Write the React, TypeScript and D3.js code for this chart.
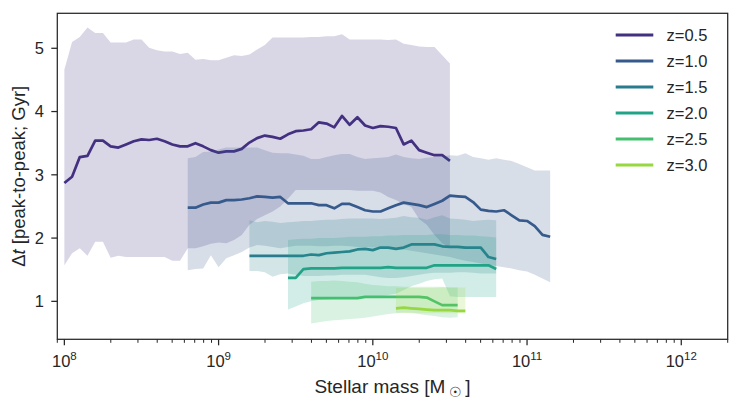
import * as React from "react";
import * as d3 from "d3";

// log10 stellar mass bins and Δt values
const massZ05 = [8.0, 8.05, 8.1, 8.15, 8.2, 8.25, 8.3, 8.35, 8.4, 8.45, 8.5, 8.55, 8.6, 8.65, 8.7, 8.75, 8.8, 8.85, 8.9, 8.95, 9.0, 9.05, 9.1, 9.15, 9.2, 9.25, 9.3, 9.35, 9.4, 9.45, 9.5, 9.55, 9.6, 9.65, 9.7, 9.75, 9.8, 9.85, 9.9, 9.95, 10.0, 10.05, 10.1, 10.15, 10.2, 10.25, 10.3, 10.35, 10.4, 10.45, 10.5];
const midZ05 = [2.87, 2.97, 3.28, 3.3, 3.54, 3.54, 3.45, 3.43, 3.48, 3.53, 3.56, 3.55, 3.57, 3.53, 3.48, 3.45, 3.45, 3.5, 3.45, 3.39, 3.35, 3.37, 3.37, 3.41, 3.51, 3.58, 3.62, 3.6, 3.57, 3.64, 3.69, 3.7, 3.72, 3.83, 3.81, 3.75, 3.93, 3.79, 3.91, 3.78, 3.74, 3.77, 3.76, 3.74, 3.48, 3.54, 3.39, 3.35, 3.31, 3.31, 3.22];
const hiZ05 = [4.66, 5.1, 5.18, 5.33, 5.24, 5.24, 5.09, 5.09, 5.09, 5.14, 5.14, 5.01, 4.97, 4.95, 4.95, 4.91, 4.93, 4.82, 4.83, 4.81, 4.81, 4.85, 4.89, 4.88, 4.9, 4.98, 5.05, 5.17, 5.17, 5.17, 5.17, 5.17, 5.18, 5.18, 5.19, 5.19, 5.22, 5.14, 5.14, 5.14, 5.14, 5.14, 5.13, 5.14, 5.07, 5.05, 5.03, 5.02, 5.02, 4.89, 4.76];
const loZ05 = [1.57, 1.76, 1.84, 1.72, 1.94, 1.94, 1.69, 1.72, 1.7, 1.7, 1.7, 1.7, 1.7, 1.7, 1.64, 1.64, 1.84, 1.84, 1.87, 1.91, 1.93, 1.92, 1.97, 2.05, 2.21, 2.3, 2.36, 2.42, 2.5, 2.62, 2.76, 2.76, 2.76, 2.76, 2.76, 2.76, 2.76, 2.76, 2.75, 2.75, 2.75, 2.72, 2.65, 2.6, 2.54, 2.49, 2.3, 2.21, 2.05, 1.92, 1.85];

const massZ10 = [8.8, 8.85, 8.9, 8.95, 9.0, 9.05, 9.1, 9.15, 9.2, 9.25, 9.3, 9.35, 9.4, 9.45, 9.5, 9.55, 9.6, 9.65, 9.7, 9.75, 9.8, 9.85, 9.9, 9.95, 10.0, 10.05, 10.1, 10.15, 10.2, 10.25, 10.3, 10.35, 10.4, 10.45, 10.5, 10.55, 10.6, 10.65, 10.7, 10.75, 10.8, 10.85, 10.9, 10.95, 11.0, 11.05, 11.1, 11.15];
const midZ10 = [2.48, 2.48, 2.53, 2.56, 2.56, 2.6, 2.6, 2.61, 2.63, 2.66, 2.65, 2.64, 2.65, 2.55, 2.55, 2.55, 2.55, 2.52, 2.52, 2.47, 2.54, 2.54, 2.49, 2.44, 2.42, 2.42, 2.47, 2.52, 2.56, 2.54, 2.52, 2.49, 2.54, 2.59, 2.67, 2.66, 2.65, 2.57, 2.45, 2.43, 2.42, 2.44, 2.36, 2.28, 2.27, 2.19, 2.05, 2.02];
const hiZ10 = [3.26, 3.28, 3.36, 3.37, 3.4, 3.43, 3.43, 3.43, 3.43, 3.43, 3.39, 3.35, 3.34, 3.34, 3.32, 3.3, 3.25, 3.25, 3.28, 3.31, 3.33, 3.33, 3.28, 3.25, 3.26, 3.27, 3.28, 3.32, 3.28, 3.26, 3.25, 3.27, 3.28, 3.29, 3.31, 3.3, 3.34, 3.28, 3.26, 3.24, 3.26, 3.24, 3.22, 3.17, 3.12, 3.07, 3.07, 3.07];
const loZ10 = [1.49, 1.51, 1.52, 1.73, 1.54, 1.68, 1.73, 1.78, 1.85, 1.89, 1.88, 1.86, 1.84, 1.86, 1.88, 1.88, 1.88, 1.87, 1.87, 1.88, 1.88, 1.87, 1.86, 1.86, 1.85, 1.85, 1.84, 1.83, 1.82, 1.8, 1.78, 1.76, 1.74, 1.72, 1.7, 1.67, 1.64, 1.62, 1.6, 1.58, 1.56, 1.54, 1.52, 1.49, 1.47, 1.42, 1.36, 1.3];

const massZ15 = [9.2, 9.25, 9.3, 9.35, 9.4, 9.45, 9.5, 9.55, 9.6, 9.65, 9.7, 9.75, 9.8, 9.85, 9.9, 9.95, 10.0, 10.05, 10.1, 10.15, 10.2, 10.25, 10.3, 10.35, 10.4, 10.45, 10.5, 10.55, 10.6, 10.65, 10.7, 10.75, 10.8];
const midZ15 = [1.72, 1.72, 1.72, 1.72, 1.72, 1.72, 1.72, 1.72, 1.74, 1.73, 1.76, 1.77, 1.78, 1.79, 1.82, 1.83, 1.81, 1.85, 1.85, 1.83, 1.85, 1.9, 1.9, 1.9, 1.9, 1.87, 1.86, 1.86, 1.85, 1.85, 1.85, 1.7, 1.67];
const hiZ15 = [2.28, 2.25, 2.27, 2.26, 2.24, 2.25, 2.26, 2.27, 2.27, 2.28, 2.29, 2.29, 2.3, 2.31, 2.31, 2.31, 2.31, 2.3, 2.31, 2.32, 2.35, 2.33, 2.32, 2.29, 2.33, 2.36, 2.31, 2.3, 2.29, 2.27, 2.28, 2.29, 2.28];
const loZ15 = [1.48, 1.48, 1.46, 1.39, 1.43, 1.44, 1.42, 1.4, 1.4, 1.4, 1.41, 1.41, 1.42, 1.42, 1.42, 1.42, 1.4, 1.38, 1.37, 1.37, 1.38, 1.4, 1.42, 1.44, 1.45, 1.45, 1.45, 1.46, 1.46, 1.45, 1.44, 1.44, 1.44];

const massZ20 = [9.45, 9.5, 9.55, 9.6, 9.65, 9.7, 9.75, 9.8, 9.85, 9.9, 9.95, 10.0, 10.05, 10.1, 10.15, 10.2, 10.25, 10.3, 10.35, 10.4, 10.45, 10.5, 10.55, 10.6, 10.65, 10.7, 10.75, 10.8];
const midZ20 = [1.37, 1.37, 1.51, 1.52, 1.52, 1.52, 1.52, 1.53, 1.53, 1.53, 1.53, 1.53, 1.53, 1.54, 1.53, 1.53, 1.53, 1.53, 1.53, 1.57, 1.57, 1.57, 1.57, 1.57, 1.57, 1.57, 1.57, 1.51];
const hiZ20 = [1.97, 1.98, 1.99, 1.99, 2.0, 2.0, 2.0, 2.01, 2.02, 2.02, 2.02, 2.03, 2.03, 2.04, 2.04, 2.05, 2.05, 2.05, 2.05, 2.06, 2.06, 2.05, 2.05, 2.04, 2.04, 2.03, 2.02, 2.01];
const loZ20 = [0.87, 0.92, 0.97, 1.0, 1.02, 1.03, 1.04, 1.04, 1.05, 1.05, 1.06, 1.07, 1.08, 1.1, 1.12, 1.18, 1.24, 1.28, 1.32, 1.35, 1.36, 1.08, 1.07, 1.07, 1.07, 1.07, 1.07, 1.07];

const massZ25 = [9.6, 9.65, 9.7, 9.75, 9.8, 9.85, 9.9, 9.95, 10.0, 10.05, 10.1, 10.15, 10.2, 10.25, 10.3, 10.35, 10.4, 10.45, 10.5, 10.55];
const midZ25 = [1.05, 1.05, 1.05, 1.05, 1.05, 1.05, 1.05, 1.07, 1.07, 1.07, 1.07, 1.07, 1.07, 1.07, 1.07, 1.06, 1.0, 0.94, 0.94, 0.94];
const hiZ25 = [1.31, 1.32, 1.32, 1.33, 1.32, 1.31, 1.3, 1.28, 1.26, 1.25, 1.24, 1.24, 1.23, 1.23, 1.23, 1.23, 1.23, 1.23, 1.22, 1.22];
const loZ25 = [0.65, 0.67, 0.69, 0.7, 0.71, 0.72, 0.73, 0.74, 0.76, 0.78, 0.8, 0.81, 0.82, 0.82, 0.8, 0.78, 0.77, 0.75, 0.74, 0.75];

const massZ30 = [10.15, 10.2, 10.25, 10.3, 10.35, 10.4, 10.45, 10.5, 10.55, 10.6];
const midZ30 = [0.89, 0.9, 0.89, 0.88, 0.87, 0.86, 0.86, 0.86, 0.85, 0.85];
const hiZ30 = [1.21, 1.21, 1.21, 1.21, 1.21, 1.21, 1.22, 1.22, 1.22, 1.22];
const loZ30 = [0.82, 0.82, 0.81, 0.81, 0.81, 0.81, 0.81, 0.81, 0.81, 0.81];

const labels = ["z=0.5", "z=1.0", "z=1.5", "z=2.0", "z=2.5", "z=3.0"];
const colors = ["#433080", "#375a8c", "#287c8e", "#20a386", "#44bf70", "#96d83f"];

const yTicks = [1, 2, 3, 4, 5];

const FONT = "'Liberation Sans', Arial, sans-serif";
const INK = "#262626";

interface Pt {
  m: number;
  v: number;
  lo: number;
  hi: number;
}

const App: React.FC = () => {
  const width = 739;
  const height = 406;
  const margin = { top: 13.3, right: 11.3, bottom: 66.7, left: 57.3 };

  const x = d3
    .scaleLog()
    .domain([9e7, 2e12])
    .range([margin.left, width - margin.right]);
  const y = d3
    .scaleLinear()
    .domain([0.4, 5.553])
    .range([height - margin.bottom, margin.top]);

  const raw = [
    [massZ05, midZ05, loZ05, hiZ05],
    [massZ10, midZ10, loZ10, hiZ10],
    [massZ15, midZ15, loZ15, hiZ15],
    [massZ20, midZ20, loZ20, hiZ20],
    [massZ25, midZ25, loZ25, hiZ25],
    [massZ30, midZ30, loZ30, hiZ30],
  ];
  const series: Pt[][] = raw.map(([m, v, lo, hi]) =>
    m.map((mm, i) => ({ m: mm, v: v[i], lo: lo[i], hi: hi[i] }))
  );

  const line = d3
    .line<Pt>()
    .x((d) => x(Math.pow(10, d.m)))
    .y((d) => y(d.v));
  const area = d3
    .area<Pt>()
    .x((d) => x(Math.pow(10, d.m)))
    .y0((d) => y(d.lo))
    .y1((d) => y(d.hi));

  const allTicks = x.ticks();
  const isMajor = (t: number) => Math.abs(Math.log10(t) - Math.round(Math.log10(t))) < 1e-6;
  const majors = allTicks.filter(isMajor);
  const minors = allTicks.filter((t) => !isMajor(t));

  const x0 = margin.left;
  const x1 = width - margin.right;
  const y0 = height - margin.bottom;
  const y1 = margin.top;

  return (
    <svg
      width={width}
      height={height}
      style={{ position: "absolute", left: 0, top: 0, background: "#fff" }}
      fontFamily={FONT}
    >
      <defs>
        <clipPath id="plot">
          <rect x={x0} y={y1} width={x1 - x0} height={y0 - y1} />
        </clipPath>
      </defs>

      <g clipPath="url(#plot)">
        {series.map((s, i) => (
          <g key={labels[i]}>
            <path d={area(s) || ""} fill={colors[i]} fillOpacity={0.2} stroke="none" />
            <path d={line(s) || ""} fill="none" stroke={colors[i]} strokeWidth={2.7} strokeLinejoin="round" />
          </g>
        ))}
      </g>

      {/* frame */}
      <rect x={x0} y={y1} width={x1 - x0} height={y0 - y1} fill="none" stroke={INK} strokeWidth={1.25} />

      {/* x axis */}
      {minors.map((t) => (
        <line key={"mn" + t} x1={x(t)} x2={x(t)} y1={y0} y2={y0 + 3.5} stroke={INK} strokeWidth={1} />
      ))}
      {majors.map((t) => (
        <g key={"mj" + t}>
          <line x1={x(t)} x2={x(t)} y1={y0} y2={y0 + 6} stroke={INK} strokeWidth={1.25} />
          <text x={x(t)} y={366.5} textAnchor="middle" fontSize={16.5} fill={INK}>
            10
            <tspan fontSize={11.5} dy={-7}>
              {Math.round(Math.log10(t))}
            </tspan>
          </text>
        </g>
      ))}
      <text x={(x0 + x1) / 2} y={393} textAnchor="middle" fontSize={19} fill={INK}>
        Stellar mass [M
        <tspan fontSize={14} dx={4} dy={4}>
          ☉
        </tspan>
        <tspan dx={3} dy={-4}>
          ]
        </tspan>
      </text>

      {/* y axis */}
      {yTicks.map((t) => (
        <g key={"y" + t}>
          <line x1={x0 - 6} x2={x0} y1={y(t)} y2={y(t)} stroke={INK} strokeWidth={1.25} />
          <text x={44} y={y(t)} dy="0.36em" textAnchor="end" fontSize={16.5} fill={INK}>
            {t}
          </text>
        </g>
      ))}
      <text
        transform={`translate(25,${(y0 + y1) / 2}) rotate(-90)`}
        textAnchor="middle"
        fontSize={18.5}
        fill={INK}
      >
        Δ<tspan fontStyle="italic">t</tspan> [peak-to-peak; Gyr]
      </text>

      {/* legend */}
      {labels.map((lab, i) => {
        const ly = 35 + i * 26;
        return (
          <g key={"lg" + lab}>
            <line x1={615.7} x2={653.3} y1={ly} y2={ly} stroke={colors[i]} strokeWidth={2.8} />
            <text x={666.5} y={ly} dy="0.36em" fontSize={16.5} fill={INK}>
              {lab}
            </text>
          </g>
        );
      })}
    </svg>
  );
};

export default App;
